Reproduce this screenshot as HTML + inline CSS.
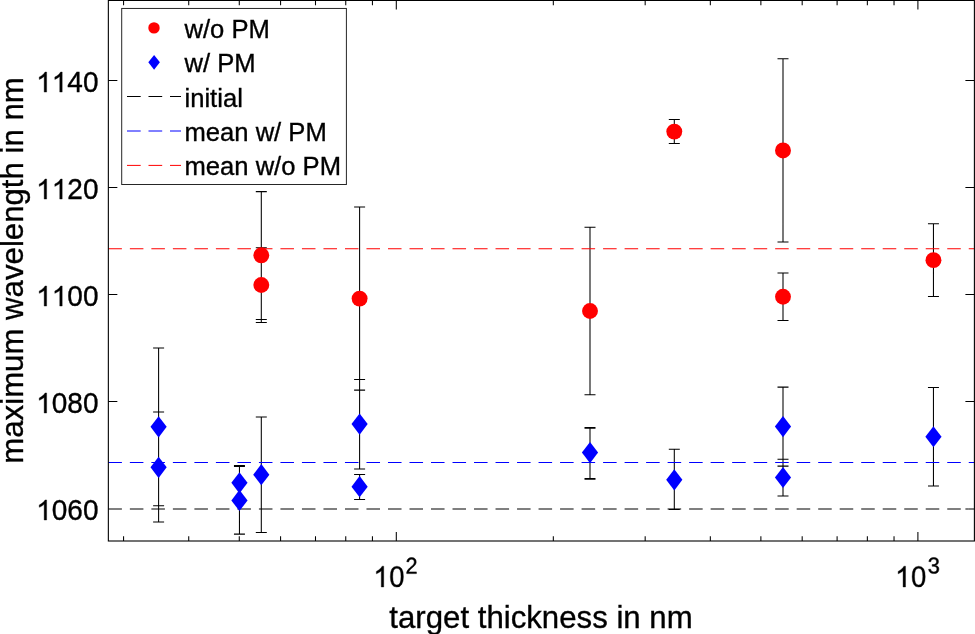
<!DOCTYPE html>
<html><head><meta charset="utf-8"><style>
html,body{margin:0;padding:0;background:#fff;width:975px;height:634px;overflow:hidden}
svg{display:block}
text{font-family:"Liberation Sans",sans-serif;fill:#000;font-kerning:none;stroke:#000;stroke-width:0.35px}
svg{will-change:transform}
</style></head><body>
<svg width="975" height="634" viewBox="0 0 975 634">
<path d="M158.6 347.9V505.7M153.1 347.9H164.1M153.1 505.7H164.1M158.6 412.0V522.0M153.1 412.0H164.1M153.1 522.0H164.1M239.45 465.5V500.1M233.95 465.5H244.95M233.95 500.1H244.95M239.45 466.5V534.1M233.95 466.5H244.95M233.95 534.1H244.95M261.3 191.6V319.5M255.8 191.6H266.8M255.8 319.5H266.8M261.3 247.8V322.5M255.8 247.8H266.8M255.8 322.5H266.8M261.3 417.0V532.4M255.8 417.0H266.8M255.8 532.4H266.8M359.6 207.07V390.1M354.1 207.07H365.1M354.1 390.1H365.1M359.6 379.4V468.9M354.1 379.4H365.1M354.1 468.9H365.1M359.6 474.4V499.4M354.1 474.4H365.1M354.1 499.4H365.1M590.0 227.17V394.7M584.5 227.17H595.5M584.5 394.7H595.5M590.0 427.5V478.6M584.5 427.5H595.5M584.5 478.6H595.5M590.0 428.3V479.3M584.5 428.3H595.5M584.5 479.3H595.5M674.3 119.4V143.5M668.8 119.4H679.8M668.8 143.5H679.8M674.3 449.2V509.5M668.8 449.2H679.8M668.8 509.5H679.8M783.0 58.8V242.0M777.5 58.8H788.5M777.5 242.0H788.5M783.0 273.0V320.4M777.5 273.0H788.5M777.5 320.4H788.5M783.0 387.1V466.1M777.5 387.1H788.5M777.5 466.1H788.5M783.0 459.2V495.9M777.5 459.2H788.5M777.5 495.9H788.5M933.45 223.8V296.5M927.95 223.8H938.95M927.95 296.5H938.95M933.45 387.5V486.0M927.95 387.5H938.95M927.95 486.0H938.95" stroke="#000" stroke-width="1.05" fill="none"/>
<line x1="108.35" y1="509.0" x2="974.4" y2="509.0" stroke="#000" stroke-width="1.1" stroke-dasharray="13.55 7.96"/>
<line x1="108.35" y1="462.5" x2="974.4" y2="462.5" stroke="#0000ff" stroke-width="1.1" stroke-dasharray="13.55 7.96"/>
<line x1="108.35" y1="248.75" x2="974.4" y2="248.75" stroke="#ff0000" stroke-width="1.1" stroke-dasharray="13.55 7.96"/>
<circle cx="261.3" cy="255.3" r="7.95" fill="#ff0000"/>
<circle cx="261.3" cy="285.0" r="7.95" fill="#ff0000"/>
<circle cx="359.6" cy="298.6" r="7.95" fill="#ff0000"/>
<circle cx="590.0" cy="311.0" r="7.95" fill="#ff0000"/>
<circle cx="674.3" cy="131.6" r="7.95" fill="#ff0000"/>
<circle cx="783.0" cy="150.45" r="7.95" fill="#ff0000"/>
<circle cx="783.0" cy="296.75" r="7.95" fill="#ff0000"/>
<circle cx="933.45" cy="260.15" r="7.95" fill="#ff0000"/>
<path d="M158.60 416.20L166.70 426.80L158.60 437.40L150.50 426.80Z" fill="#0000ff"/>
<path d="M158.60 456.70L166.70 467.30L158.60 477.90L150.50 467.30Z" fill="#0000ff"/>
<path d="M239.45 472.20L247.55 482.80L239.45 493.40L231.35 482.80Z" fill="#0000ff"/>
<path d="M239.45 489.80L247.55 500.40L239.45 511.00L231.35 500.40Z" fill="#0000ff"/>
<path d="M261.30 464.10L269.40 474.70L261.30 485.30L253.20 474.70Z" fill="#0000ff"/>
<path d="M359.60 413.45L367.70 424.05L359.60 434.65L351.50 424.05Z" fill="#0000ff"/>
<path d="M359.60 476.10L367.70 486.70L359.60 497.30L351.50 486.70Z" fill="#0000ff"/>
<path d="M590.00 442.00L598.10 452.60L590.00 463.20L581.90 452.60Z" fill="#0000ff"/>
<path d="M674.30 469.20L682.40 479.80L674.30 490.40L666.20 479.80Z" fill="#0000ff"/>
<path d="M783.00 416.00L791.10 426.60L783.00 437.20L774.90 426.60Z" fill="#0000ff"/>
<path d="M783.00 466.90L791.10 477.50L783.00 488.10L774.90 477.50Z" fill="#0000ff"/>
<path d="M933.45 426.15L941.55 436.75L933.45 447.35L925.35 436.75Z" fill="#0000ff"/>
<path d="M108.35 80.57h9M974.4 80.57h-9M108.35 187.55h9M974.4 187.55h-9M108.35 294.53h9M974.4 294.53h-9M108.35 401.51h9M974.4 401.51h-9M965.4 509.0H968.75M396.30 541.0v-9M396.30 0.45v9M917.90 541.0v-9M917.90 0.45v9M123.57 541.0v-4.7M123.57 0.45v4.7M188.73 541.0v-4.7M188.73 0.45v4.7M239.28 541.0v-4.7M239.28 0.45v4.7M280.58 541.0v-4.7M280.58 0.45v4.7M315.50 541.0v-4.7M315.50 0.45v4.7M345.75 541.0v-4.7M345.75 0.45v4.7M372.43 541.0v-4.7M372.43 0.45v4.7M553.32 541.0v-4.7M553.32 0.45v4.7M645.17 541.0v-4.7M645.17 0.45v4.7M710.33 541.0v-4.7M710.33 0.45v4.7M760.88 541.0v-4.7M760.88 0.45v4.7M802.18 541.0v-4.7M802.18 0.45v4.7M837.10 541.0v-4.7M837.10 0.45v4.7M867.35 541.0v-4.7M867.35 0.45v4.7M894.03 541.0v-4.7M894.03 0.45v4.7" stroke="#000" stroke-width="1.05" fill="none"/>
<rect x="108.35" y="0.45" width="866.05" height="540.55" stroke="#000" stroke-width="1.1" fill="none"/>
<rect x="121.7" y="8.45" width="224.7" height="176.05" fill="#fff" stroke="#262626" stroke-width="1"/>
<circle cx="154.0" cy="27.9" r="5.7" fill="#ff0000"/>
<path d="M154.1 54.9L159.9 62.3L154.1 69.7L148.3 62.3Z" fill="#0000ff"/>
<line x1="127.0" y1="96.5" x2="181.0" y2="96.5" stroke="#000" stroke-width="1" stroke-dasharray="13.7 7.8"/>
<line x1="127.0" y1="131.0" x2="181.0" y2="131.0" stroke="#0000ff" stroke-width="1" stroke-dasharray="13.7 7.8"/>
<line x1="127.0" y1="165.4" x2="181.0" y2="165.4" stroke="#ff0000" stroke-width="1" stroke-dasharray="13.7 7.8"/>
<text x="184.5" y="37.6" font-size="25.6">w/o PM</text>
<text x="184.5" y="72.1" font-size="25.6">w/ PM</text>
<text x="184.5" y="106.55" font-size="25.6">initial</text>
<text x="184.5" y="141.0" font-size="25.6">mean w/ PM</text>
<text x="184.5" y="175.0" font-size="25.6">mean w/o PM</text>
<path transform="translate(36.20 92.12) scale(0.01367 -0.01367)" d="M763 0H583V1147Q518 1085 412 1023Q306 961 222 930V1104Q373 1175 486 1276Q599 1377 646 1472H763Z" stroke="#000" stroke-width="25.6"/><path transform="translate(51.77 92.12) scale(0.01367 -0.01367)" d="M763 0H583V1147Q518 1085 412 1023Q306 961 222 930V1104Q373 1175 486 1276Q599 1377 646 1472H763Z" stroke="#000" stroke-width="25.6"/><text transform="translate(0 92.12) scale(1 1.035)" x="67.34 82.92" y="0" font-size="28">40</text>
<path transform="translate(36.20 199.10) scale(0.01367 -0.01367)" d="M763 0H583V1147Q518 1085 412 1023Q306 961 222 930V1104Q373 1175 486 1276Q599 1377 646 1472H763Z" stroke="#000" stroke-width="25.6"/><path transform="translate(51.77 199.10) scale(0.01367 -0.01367)" d="M763 0H583V1147Q518 1085 412 1023Q306 961 222 930V1104Q373 1175 486 1276Q599 1377 646 1472H763Z" stroke="#000" stroke-width="25.6"/><text transform="translate(0 199.10) scale(1 1.035)" x="67.34 82.92" y="0" font-size="28">20</text>
<path transform="translate(36.20 306.08) scale(0.01367 -0.01367)" d="M763 0H583V1147Q518 1085 412 1023Q306 961 222 930V1104Q373 1175 486 1276Q599 1377 646 1472H763Z" stroke="#000" stroke-width="25.6"/><path transform="translate(51.77 306.08) scale(0.01367 -0.01367)" d="M763 0H583V1147Q518 1085 412 1023Q306 961 222 930V1104Q373 1175 486 1276Q599 1377 646 1472H763Z" stroke="#000" stroke-width="25.6"/><text transform="translate(0 306.08) scale(1 1.035)" x="67.34 82.92" y="0" font-size="28">00</text>
<path transform="translate(36.20 413.06) scale(0.01367 -0.01367)" d="M763 0H583V1147Q518 1085 412 1023Q306 961 222 930V1104Q373 1175 486 1276Q599 1377 646 1472H763Z" stroke="#000" stroke-width="25.6"/><text transform="translate(0 413.06) scale(1 1.035)" x="51.77 67.34 82.92" y="0" font-size="28">080</text>
<path transform="translate(36.20 520.04) scale(0.01367 -0.01367)" d="M763 0H583V1147Q518 1085 412 1023Q306 961 222 930V1104Q373 1175 486 1276Q599 1377 646 1472H763Z" stroke="#000" stroke-width="25.6"/><text transform="translate(0 520.04) scale(1 1.035)" x="51.77 67.34 82.92" y="0" font-size="28">060</text>
<path transform="translate(373.3 587.0) scale(0.013672 -0.014150)" d="M763 0H583V1147Q518 1085 412 1023Q306 961 222 930V1104Q373 1175 486 1276Q599 1377 646 1472H763Z" stroke="#000" stroke-width="25.6"/>
<path transform="translate(389.24 586.82) scale(0.0134 -0.01441)" d="M1059 705Q1059 352 934.5 166.0Q810 -20 567 -20Q324 -20 202.0 165.0Q80 350 80 705Q80 1068 198.5 1249.0Q317 1430 573 1430Q822 1430 940.5 1247.0Q1059 1064 1059 705ZM876 705Q876 1010 805.5 1147.0Q735 1284 573 1284Q407 1284 334.5 1149.0Q262 1014 262 705Q262 405 335.5 266.0Q409 127 569 127Q728 127 802.0 269.0Q876 411 876 705Z" stroke="#000" stroke-width="26.1"/>
<path transform="translate(405.6 573.6) scale(0.01044 -0.01123)" d="M103 0V127Q154 244 227.5 333.5Q301 423 382.0 495.5Q463 568 542.5 630.0Q622 692 686.0 754.0Q750 816 789.5 884.0Q829 952 829 1038Q829 1154 761.0 1218.0Q693 1282 572 1282Q457 1282 382.5 1219.5Q308 1157 295 1044L111 1061Q131 1230 254.5 1330.0Q378 1430 572 1430Q785 1430 899.5 1329.5Q1014 1229 1014 1044Q1014 962 976.5 881.0Q939 800 865.0 719.0Q791 638 582 468Q467 374 399.0 298.5Q331 223 301 153H1036V0Z" stroke="#000" stroke-width="46"/>
<path transform="translate(895.1 587.0) scale(0.013672 -0.014150)" d="M763 0H583V1147Q518 1085 412 1023Q306 961 222 930V1104Q373 1175 486 1276Q599 1377 646 1472H763Z" stroke="#000" stroke-width="25.6"/>
<path transform="translate(911.04 586.82) scale(0.0134 -0.01441)" d="M1059 705Q1059 352 934.5 166.0Q810 -20 567 -20Q324 -20 202.0 165.0Q80 350 80 705Q80 1068 198.5 1249.0Q317 1430 573 1430Q822 1430 940.5 1247.0Q1059 1064 1059 705ZM876 705Q876 1010 805.5 1147.0Q735 1284 573 1284Q407 1284 334.5 1149.0Q262 1014 262 705Q262 405 335.5 266.0Q409 127 569 127Q728 127 802.0 269.0Q876 411 876 705Z" stroke="#000" stroke-width="26.1"/>
<path transform="translate(927.77 573.4) scale(0.01061 -0.011145)" d="M1049 389Q1049 194 925.0 87.0Q801 -20 571 -20Q357 -20 229.5 76.5Q102 173 78 362L264 379Q300 129 571 129Q707 129 784.5 196.0Q862 263 862 395Q862 510 773.5 574.5Q685 639 518 639H416V795H514Q662 795 743.5 859.5Q825 924 825 1038Q825 1151 758.5 1216.5Q692 1282 561 1282Q442 1282 368.5 1221.0Q295 1160 283 1049L102 1063Q122 1236 245.5 1333.0Q369 1430 563 1430Q775 1430 892.5 1331.5Q1010 1233 1010 1057Q1010 922 934.5 837.5Q859 753 715 723V719Q873 702 961.0 613.0Q1049 524 1049 389Z" stroke="#000" stroke-width="46"/>
<text x="541.0" y="627.9" font-size="31.2" text-anchor="middle">target thickness in nm</text>
<text transform="translate(22.7 270.45) rotate(-90)" font-size="31.2" text-anchor="middle">maximum wavelength in nm</text>
</svg>
</body></html>
